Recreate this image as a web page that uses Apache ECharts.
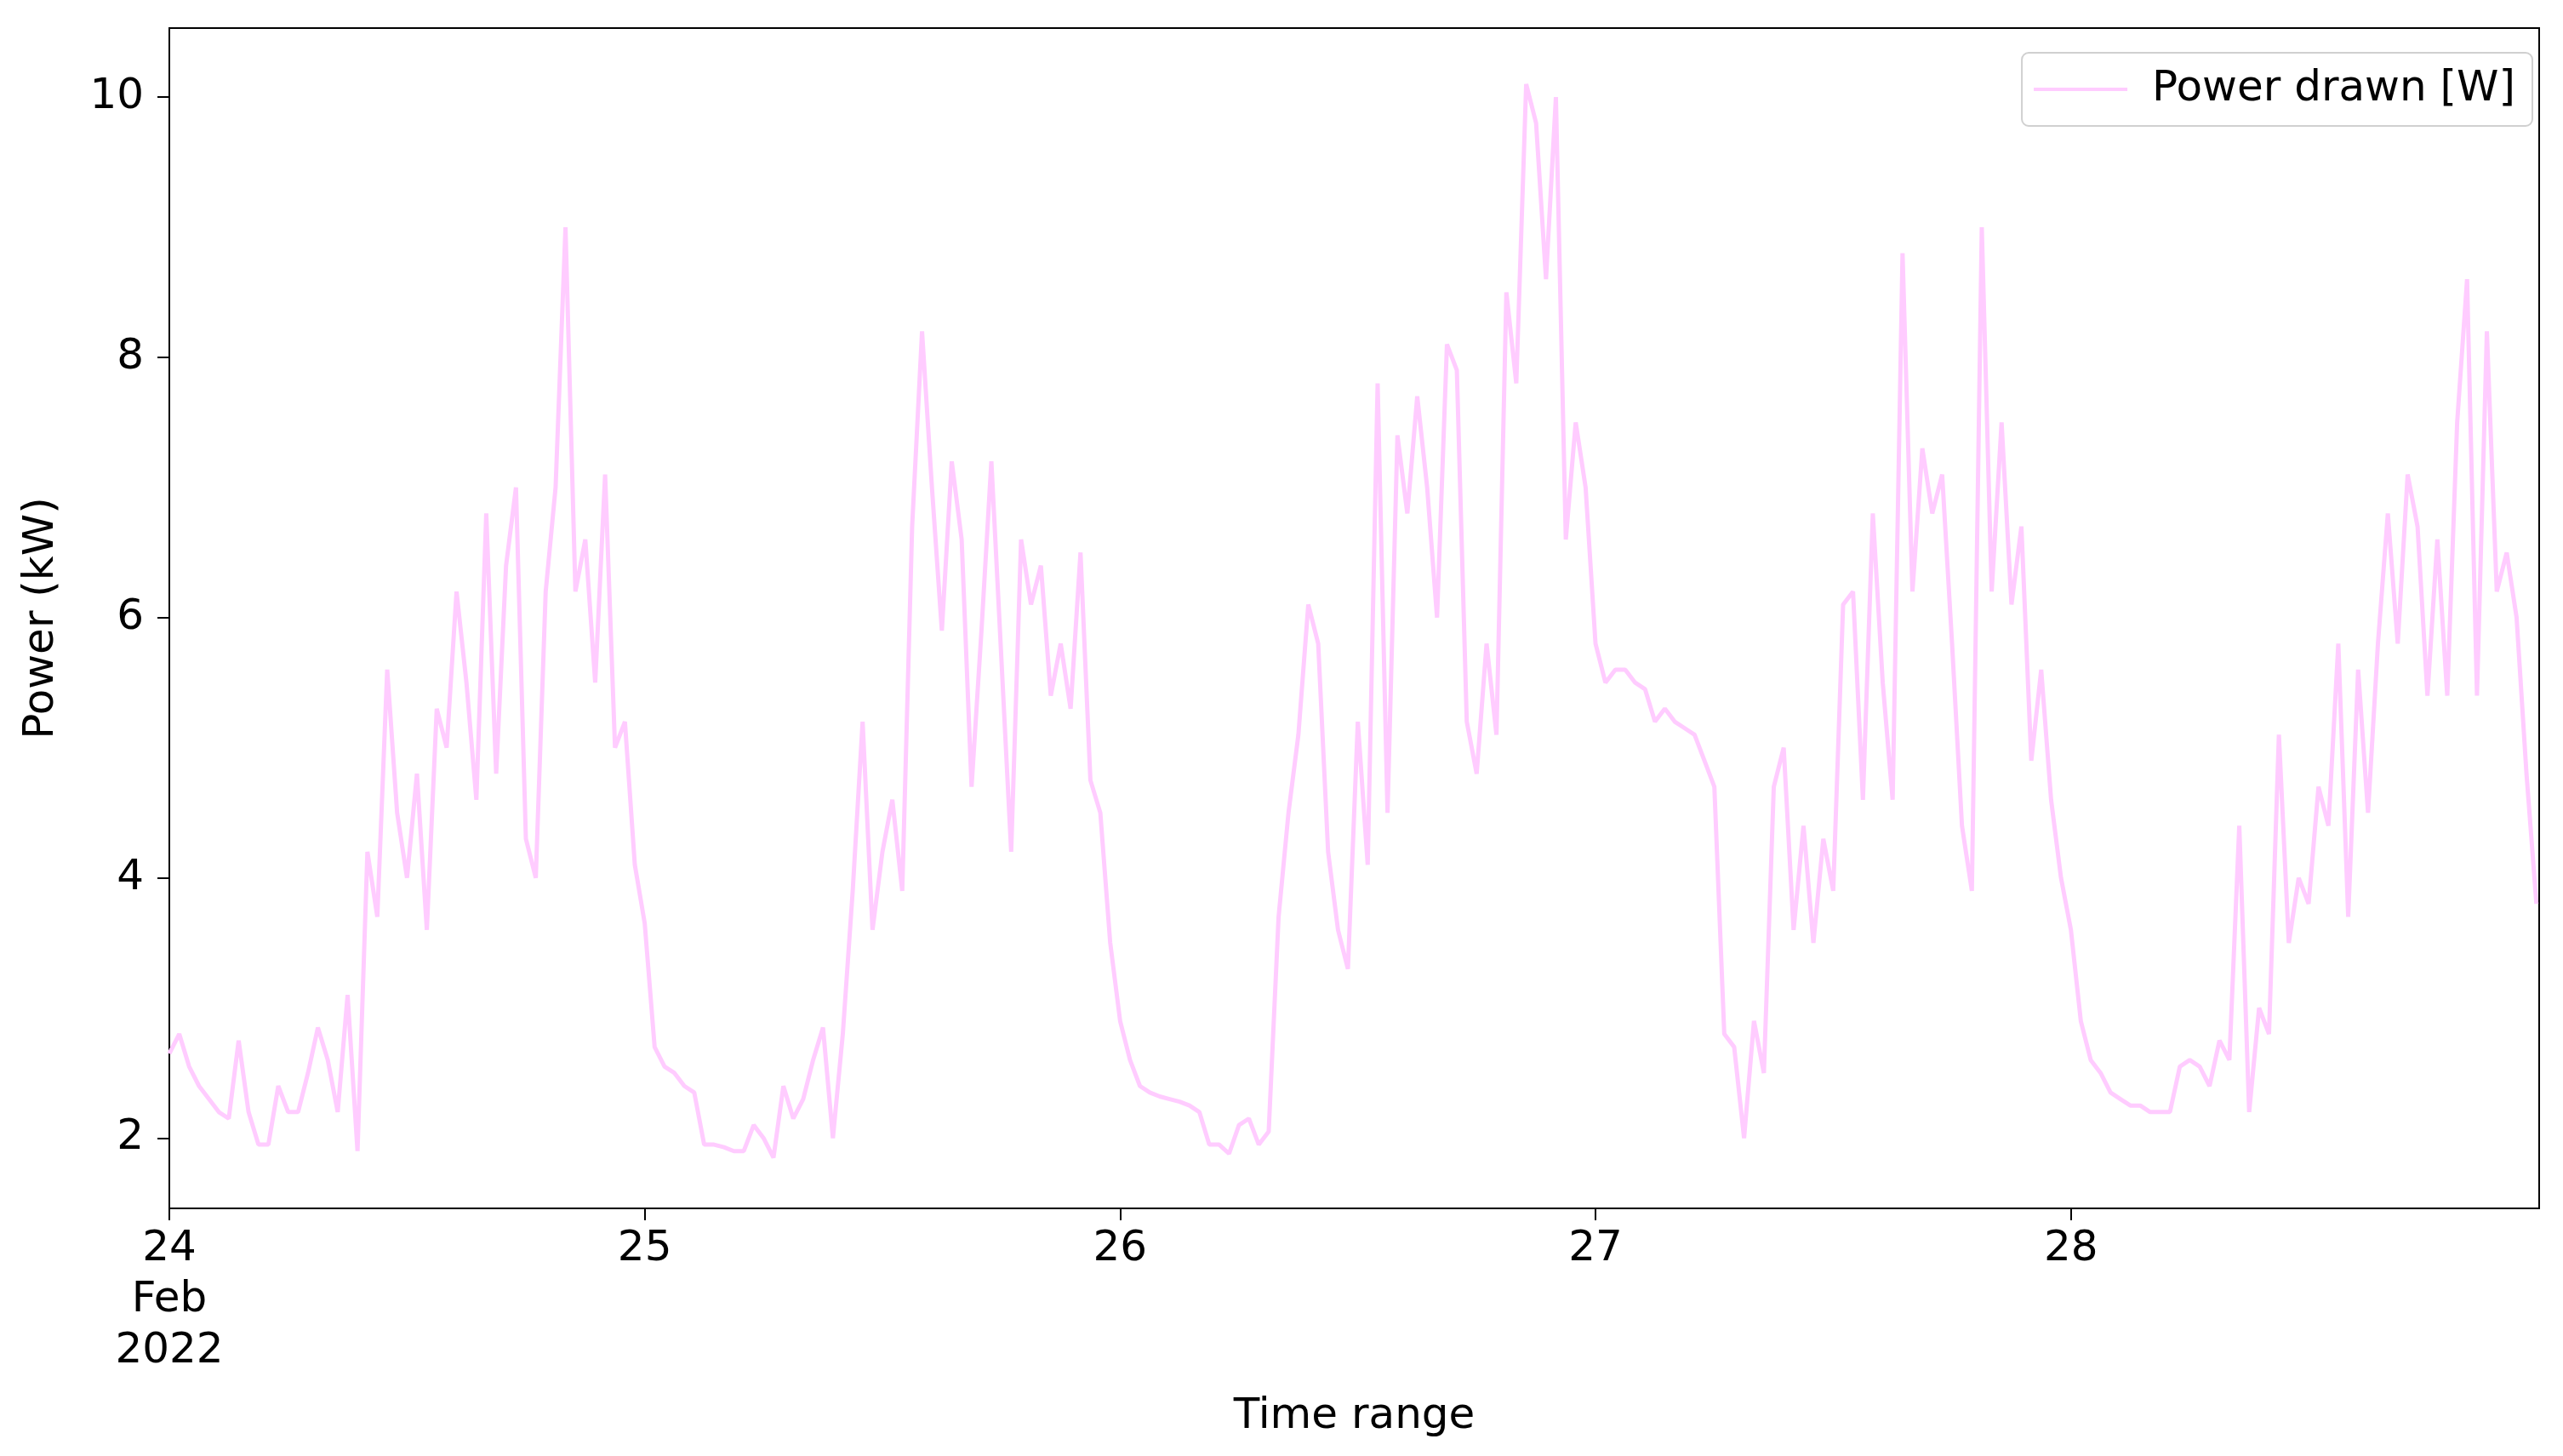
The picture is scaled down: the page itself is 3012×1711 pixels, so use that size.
<!DOCTYPE html>
<html>
<head>
<meta charset="utf-8">
<script src="https://cdn.jsdelivr.net/npm/echarts@6/dist/echarts.min.js"></script>
<style>
  html, body { margin: 0; padding: 0; background: #fff; }
  #chart-container { width: 3012px; height: 1711px; }
</style>
</head>
<body>
<div id="chart-container"></div>
<script>
var dom = document.getElementById('chart-container');
var myChart = echarts.init(dom, null, { renderer: 'canvas' });

// readings every 30 minutes from 24 Feb 2022 00:00 (kW)
const stepHours = 0.5;
const day24 = [2.65, 2.8, 2.55, 2.4, 2.3, 2.2, 2.15, 2.75, 2.2, 1.95, 1.95, 2.4, 2.2, 2.2, 2.5, 2.85,
  2.6, 2.2, 3.1, 1.9, 4.2, 3.7, 5.6, 4.5, 4.0, 4.8, 3.6, 5.3, 5.0, 6.2, 5.5, 4.6,
  6.8, 4.8, 6.4, 7.0, 4.3, 4.0, 6.2, 7.0, 9.0, 6.2, 6.6, 5.5, 7.1, 5.0, 5.2, 4.1];
const day25 = [3.65, 2.7, 2.55, 2.5, 2.4, 2.35, 1.95, 1.95, 1.93, 1.9, 1.9, 2.1, 2.0, 1.85, 2.4, 2.15,
  2.3, 2.6, 2.85, 2.0, 2.8, 3.9, 5.2, 3.6, 4.2, 4.6, 3.9, 6.7, 8.2, 7.0, 5.9, 7.2,
  6.6, 4.7, 5.9, 7.2, 5.7, 4.2, 6.6, 6.1, 6.4, 5.4, 5.8, 5.3, 6.5, 4.75, 4.5, 3.5];
const day26 = [2.9, 2.6, 2.4, 2.35, 2.32, 2.3, 2.28, 2.25, 2.2, 1.95, 1.95, 1.88, 2.1, 2.15, 1.95, 2.05,
  3.7, 4.5, 5.1, 6.1, 5.8, 4.2, 3.6, 3.3, 5.2, 4.1, 7.8, 4.5, 7.4, 6.8, 7.7, 7.0,
  6.0, 8.1, 7.9, 5.2, 4.8, 5.8, 5.1, 8.5, 7.8, 10.1, 9.8, 8.6, 10.0, 6.6, 7.5, 7.0];
const day27 = [5.8, 5.5, 5.6, 5.6, 5.5, 5.45, 5.2, 5.3, 5.2, 5.15, 5.1, 4.9, 4.7, 2.8, 2.7, 2.0,
  2.9, 2.5, 4.7, 5.0, 3.6, 4.4, 3.5, 4.3, 3.9, 6.1, 6.2, 4.6, 6.8, 5.5, 4.6, 8.8,
  6.2, 7.3, 6.8, 7.1, 5.8, 4.4, 3.9, 9.0, 6.2, 7.5, 6.1, 6.7, 4.9, 5.6, 4.6, 4.0];
const day28 = [3.6, 2.9, 2.6, 2.5, 2.35, 2.3, 2.25, 2.25, 2.2, 2.2, 2.2, 2.55, 2.6, 2.55, 2.4, 2.75,
  2.6, 4.4, 2.2, 3.0, 2.8, 5.1, 3.5, 4.0, 3.8, 4.7, 4.4, 5.8, 3.7, 5.6, 4.5, 5.8,
  6.8, 5.8, 7.1, 6.7, 5.4, 6.6, 5.4, 7.5, 8.6, 5.4, 8.2, 6.2, 6.5, 6.0, 4.8, 3.8];

const dayLabels = ['24\nFeb\n2022', '25', '26', '27', '28'];
const dayTicks = [0, 1, 2, 3, 4];
const yTicks = [2, 4, 6, 8, 10];

const power = [].concat(day24, day25, day26, day27, day28);
const seriesData = power.map((v, i) => [i * stepHours / 24, v]);

var option = {
  animation: false,
  backgroundColor: '#fff',
  textStyle: { fontFamily: 'DejaVu Sans' },
  grid: {
    left: 199, right: 28, top: 33, bottom: 291,
    show: true, borderColor: '#000', borderWidth: 2
  },
  legend: {
    right: 36, top: 62,
    data: ['Power drawn [W]'],
    itemWidth: 110, itemHeight: 4, itemGap: 10,
    padding: [18, 20, 18, 14],
    borderColor: '#d0d0d0', borderWidth: 2, borderRadius: 8,
    textStyle: { fontSize: 50, color: '#000', fontFamily: 'DejaVu Sans', padding: [0, 0, 0, 24] },
    icon: 'rect'
  },
  xAxis: {
    type: 'value',
    min: 0,
    max: 4.985,
    name: 'Time range',
    nameLocation: 'middle',
    nameGap: 220,
    nameTextStyle: { fontSize: 50, color: '#000' },
    axisLine: { show: true, lineStyle: { color: '#000', width: 2 } },
    axisTick: { show: true, length: 14, lineStyle: { color: '#000', width: 2 }, customValues: dayTicks },
    axisLabel: {
      fontSize: 50, color: '#000', margin: 18, lineHeight: 60,
      customValues: dayTicks,
      formatter: function (v) { return dayLabels[Math.round(v)]; }
    },
    splitLine: { show: false }
  },
  yAxis: {
    type: 'value',
    min: 1.46,
    max: 10.53,
    name: 'Power (kW)',
    nameLocation: 'middle',
    nameGap: 125,
    nameTextStyle: { fontSize: 50, color: '#000' },
    axisLine: { show: true, lineStyle: { color: '#000', width: 2 } },
    axisTick: { show: true, length: 14, lineStyle: { color: '#000', width: 2 }, customValues: yTicks },
    axisLabel: { fontSize: 50, color: '#000', margin: 30, customValues: yTicks },
    splitLine: { show: false }
  },
  series: [{
    name: 'Power drawn [W]',
    type: 'line',
    data: seriesData,
    showSymbol: false,
    lineStyle: { color: '#ffccff', width: 5 },
    itemStyle: { color: '#ffccff' }
  }]
};

myChart.setOption(option);
window.addEventListener('resize', myChart.resize);
</script>
</body>
</html>
